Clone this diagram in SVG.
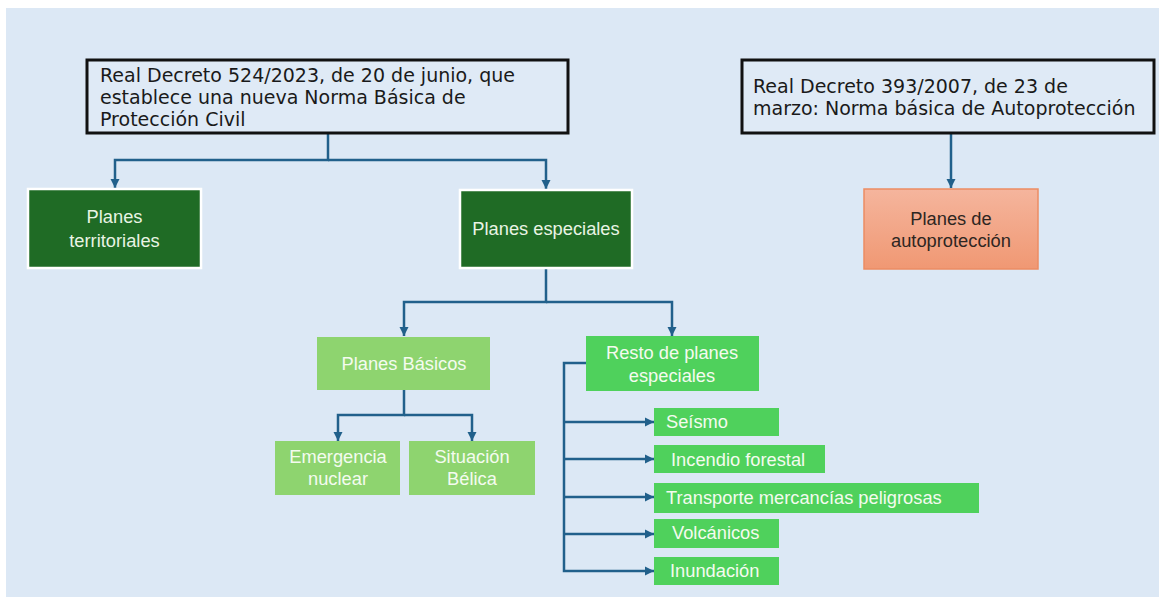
<svg xmlns="http://www.w3.org/2000/svg" width="1159" height="597" viewBox="0 0 1159 597">
<style>
.law{fill:#dfeaf6;stroke:#111;stroke-width:3}
.lawt{font-family:"DejaVu Sans",Verdana,sans-serif;font-size:19px;fill:#1a1a1a}
.dark{fill:#1f6b25;stroke:#ffffff;stroke-width:2.5}
.pale{fill:#8ed46f}
.bright{fill:#4fd15c}
.t{font-family:"Liberation Sans",Arial,sans-serif;font-size:18.3px}
.tw{fill:#e9f4e4}
.tl{fill:#f4fbef}
.c{text-anchor:middle}
.conn{fill:none;stroke:#21608b;stroke-width:2.5}
</style>
<defs>
<marker id="arr" markerUnits="userSpaceOnUse" markerWidth="10" markerHeight="10" viewBox="0 0 10 10" refX="9" refY="5" orient="auto">
<path d="M0,0.5 L9,5 L0,9.5 Z" fill="#21608b"/>
</marker>
<linearGradient id="salmon" x1="0" y1="0" x2="0" y2="1">
<stop offset="0" stop-color="#f5b59d"/>
<stop offset="1" stop-color="#f09873"/>
</linearGradient>
</defs>
<rect x="0" y="0" width="1159" height="597" fill="#ffffff"/>
<rect x="6" y="8" width="1153" height="589" fill="#dce8f5"/>

<g id="connectors">
<path class="conn" d="M328,134 V160 H115 V188" marker-end="url(#arr)"/>
<path class="conn" d="M328,160 H546 V189" marker-end="url(#arr)"/>
<path class="conn" d="M951,134 V188" marker-end="url(#arr)"/>
<path class="conn" d="M546,269 V302 H404 V336" marker-end="url(#arr)"/>
<path class="conn" d="M546,302 H672 V336" marker-end="url(#arr)"/>
<path class="conn" d="M404,390 V415 H338 V441" marker-end="url(#arr)"/>
<path class="conn" d="M404,415 H472 V441" marker-end="url(#arr)"/>
<path class="conn" d="M586,363 H564 V571 H654" marker-end="url(#arr)"/>
<path class="conn" d="M564,422 H654" marker-end="url(#arr)"/>
<path class="conn" d="M564,459 H654" marker-end="url(#arr)"/>
<path class="conn" d="M564,497 H654" marker-end="url(#arr)"/>
<path class="conn" d="M564,534 H654" marker-end="url(#arr)"/>
</g>

<g id="rd524">
<rect class="law" x="87" y="60" width="481" height="73"/>
<text class="lawt" x="100" y="82">Real Decreto 524/2023, de 20 de junio, que</text>
<text class="lawt" x="100" y="104">establece una nueva Norma Básica de</text>
<text class="lawt" x="100" y="126">Protección Civil</text>
</g>

<g id="rd393">
<rect class="law" x="742" y="60" width="412" height="73"/>
<text class="lawt" x="753" y="93">Real Decreto 393/2007, de 23 de</text>
<text class="lawt" x="753" y="115">marzo: Norma básica de Autoprotección</text>
</g>

<g id="territoriales">
<rect class="dark" x="28" y="189" width="173" height="79"/>
<text class="t tw c" x="114.5" y="223">Planes</text>
<text class="t tw c" x="114.5" y="247">territoriales</text>
</g>

<g id="especiales">
<rect class="dark" x="460" y="190" width="172" height="78"/>
<text class="t tw c" x="546" y="235">Planes especiales</text>
</g>

<g id="autoproteccion">
<rect x="864" y="189" width="174" height="80" fill="url(#salmon)" stroke="#ec8c63" stroke-width="1.5"/>
<text class="t c" x="951" y="225" fill="#2e2622">Planes de</text>
<text class="t c" x="951" y="247" fill="#2e2622">autoprotección</text>
</g>

<g id="basicos">
<rect class="pale" x="317" y="337" width="173" height="53"/>
<text class="t tl c" x="404" y="370">Planes Básicos</text>
</g>

<g id="resto">
<rect class="bright" x="586" y="336" width="173" height="55"/>
<text class="t tl c" x="672" y="359">Resto de planes</text>
<text class="t tl c" x="672" y="382">especiales</text>
</g>

<g id="nuclear">
<rect class="pale" x="275" y="441" width="125" height="54"/>
<text class="t tl c" x="338" y="463">Emergencia</text>
<text class="t tl c" x="338" y="485">nuclear</text>
</g>

<g id="belica">
<rect class="pale" x="409" y="441" width="126" height="54"/>
<text class="t tl c" x="472" y="463">Situación</text>
<text class="t tl c" x="472" y="485">Bélica</text>
</g>

<g id="seismo">
<rect class="bright" x="654" y="408" width="125" height="28"/>
<text class="t tl" x="666" y="428">Seísmo</text>
</g>

<g id="incendio">
<rect class="bright" x="654" y="445" width="171" height="28"/>
<text class="t tl" x="671" y="466">Incendio forestal</text>
</g>

<g id="transporte">
<rect class="bright" x="654" y="483" width="325" height="30"/>
<text class="t tl" x="666" y="504">Transporte mercancías peligrosas</text>
</g>

<g id="volcanicos">
<rect class="bright" x="654" y="519" width="125" height="29"/>
<text class="t tl" x="672" y="539">Volcánicos</text>
</g>

<g id="inundacion">
<rect class="bright" x="654" y="557" width="125" height="28"/>
<text class="t tl" x="670" y="577">Inundación</text>
</g>
</svg>
